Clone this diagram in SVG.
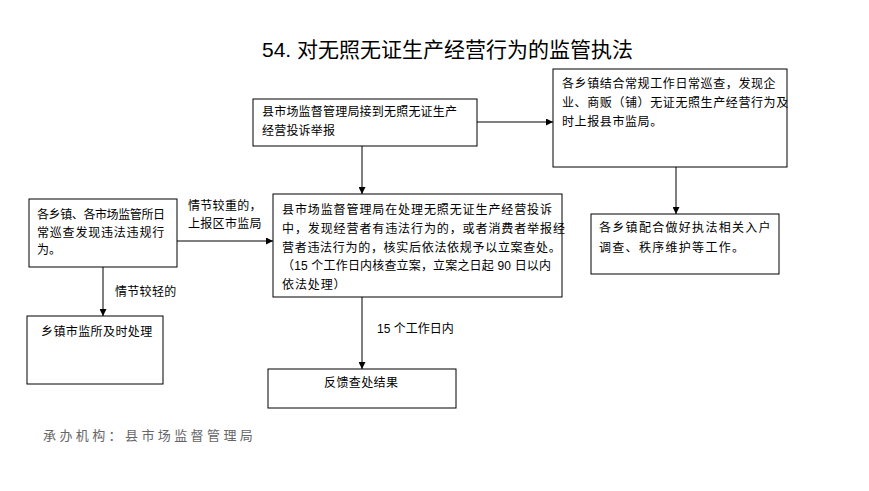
<svg xmlns="http://www.w3.org/2000/svg" width="869" height="491" viewBox="0 0 869 491">
<defs>
<style>
text{font-family:"Liberation Sans","Noto Sans CJK SC",sans-serif;font-size:12px;fill:#000}
.box{fill:#fff;stroke:#000;stroke-width:1}
.conn{stroke:#000;stroke-width:1;fill:none}
.title{font-size:21px}
.foot{font-size:13px;fill:#666;letter-spacing:3.4px}
</style>
<marker id="arr" viewBox="0 0 10 10" refX="10" refY="5" markerWidth="7" markerHeight="7" orient="auto" markerUnits="userSpaceOnUse">
<path d="M0,0 L10,5 L0,10 z" fill="#000"/>
</marker>
</defs>
<rect width="869" height="491" fill="#fff"/>
<text class="title" x="262" y="57">54. 对无照无证生产经营行为的监管执法</text>

<g id="connectors">
<line class="conn" x1="477" y1="122" x2="553" y2="122" marker-end="url(#arr)"/>
<line class="conn" x1="362" y1="146" x2="362" y2="194" marker-end="url(#arr)"/>
<line class="conn" x1="676" y1="167" x2="676" y2="214" marker-end="url(#arr)"/>
<line class="conn" x1="177" y1="241" x2="273" y2="241" marker-end="url(#arr)"/>
<line class="conn" x1="103" y1="267" x2="103" y2="316" marker-end="url(#arr)"/>
<line class="conn" x1="362" y1="297" x2="362" y2="369" marker-end="url(#arr)"/>
<text x="188" y="210" style="letter-spacing:0.3px">情节较重的，</text>
<text x="188" y="228" style="letter-spacing:0.3px">上报区市监局</text>
<text x="115" y="296" style="letter-spacing:0.3px">情节较轻的</text>
<text x="377" y="333">15 个工作日内</text>
</g>

<g id="nodeA">
<rect class="box" x="253" y="99" width="224" height="47"/>
<text x="262" y="116" style="letter-spacing:0.2px">县市场监督管理局接到无照无证生产</text>
<text x="262" y="135" style="letter-spacing:0.2px">经营投诉举报</text>
</g>

<g id="nodeB">
<rect class="box" x="553" y="69" width="234" height="98"/>
<text x="562" y="88" style="letter-spacing:0.6px">各乡镇结合常规工作日常巡查，发现企</text>
<text x="562" y="107" style="letter-spacing:0.6px">业、商贩（铺）无证无照生产经营行为及</text>
<text x="562" y="126" style="letter-spacing:0.6px">时上报县市监局。</text>
</g>

<g id="nodeC">
<rect class="box" x="591" y="214" width="188" height="60"/>
<text x="599" y="232" style="letter-spacing:1.3px">各乡镇配合做好执法相关入户</text>
<text x="599" y="252" style="letter-spacing:1.3px">调查、秩序维护等工作。</text>
</g>

<g id="nodeD">
<rect class="box" x="29" y="199" width="148" height="68"/>
<text x="37" y="219" textLength="128" lengthAdjust="spacing">各乡镇、各市场监管所日</text>
<text x="37" y="237" style="letter-spacing:0.8px">常巡查发现违法违规行</text>
<text x="37" y="254">为。</text>
</g>

<g id="nodeE">
<rect class="box" x="27" y="316" width="136" height="68"/>
<text x="41" y="336" style="letter-spacing:0.4px">乡镇市监所及时处理</text>
</g>

<g id="nodeF">
<rect class="box" x="273" y="194" width="289" height="103"/>
<text x="282" y="214" style="letter-spacing:0.9px">县市场监督管理局在处理无照无证生产经营投诉</text>
<text x="282" y="233" style="letter-spacing:0.9px">中，发现经营者有违法行为的，或者消费者举报经</text>
<text x="282" y="252" style="letter-spacing:0.7px">营者违法行为的，核实后依法依规予以立案查处。</text>
<text x="282" y="270" textLength="269" lengthAdjust="spacing">（15 个工作日内核查立案，立案之日起 90 日以内</text>
<text x="282" y="289" style="letter-spacing:0.9px">依法处理）</text>
</g>

<g id="nodeG">
<rect class="box" x="268" y="369" width="188" height="39"/>
<text x="324" y="387" style="letter-spacing:0.4px">反馈查处结果</text>
</g>

<text class="foot" x="43" y="440">承办机构：县市场监督管理局</text>
</svg>
